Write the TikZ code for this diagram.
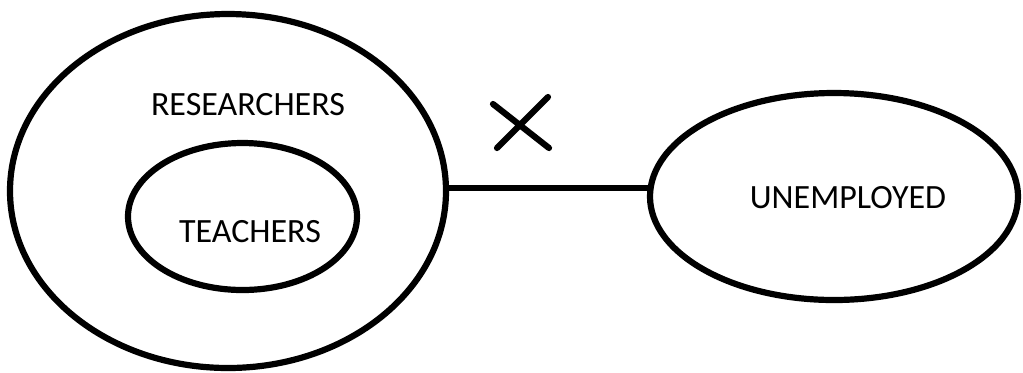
\documentclass[tikz,border=0pt]{standalone}
\usepackage{fontspec}
\setmainfont{Carlito}
\usetikzlibrary{shapes.geometric}

\begin{document}
\begin{tikzpicture}[x=0.5pt,y=-0.5pt,every node/.style={font=\fontsize{17}{20}\selectfont,align=center},set/.style={draw,ellipse,line width=3.1pt,inner sep=0pt,outer sep=0pt,minimum width=#1},link/.style={line width=3.1pt}]
\useasboundingbox (0,0) rectangle (1023,372);
\node[set=218pt,minimum height=177pt] (researchers) at (228,191) {};
\node[set=114.5pt,minimum height=73.5pt] (teachers) at (242.5,216.5) {};
\node[set=184pt,minimum height=103.5pt] (unemployed) at (834,196.5) {};
\node (researcherslabel) at (248,105) {RESEARCHERS};
\node (teacherslabel) at (250,232) {TEACHERS};
\node (unemployedlabel) at (848,198) {UNEMPLOYED};
\draw[link] (researchers.east |- 0,188) -- (unemployed.west |- 0,188);
\draw[link,line cap=round] (493,104) -- (549,148) (548,97) -- (497,148);
\end{tikzpicture}
\end{document}
